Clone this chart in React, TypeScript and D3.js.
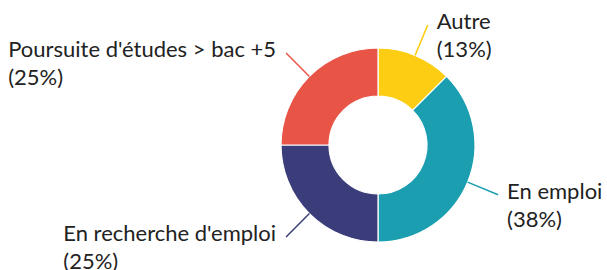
import React, { useEffect, useRef } from "react";
import * as d3 from "d3";

const categories = ["Autre", "En emploi", "En recherche d'emploi", "Poursuite d'études > bac +5"];
const shares = [12.5, 37.5, 25, 25];
const colors = ["#fccd12", "#1a9eb0", "#3b3c7a", "#e85446"];

const WIDTH = 607;
const HEIGHT = 270;
const CX = 378;
const CY = 145;
const OUTER = 97;
const INNER = 49;
const LEADER = 130;
const FONT = "Lato, sans-serif";
const FONT_SIZE = 22;
const LINE_GAP = 28;

export default function App() {
  const ref = useRef<SVGSVGElement>(null);

  useEffect(() => {
    const svg = d3.select(ref.current);
    svg.selectAll("*").remove();

    const rows = categories.map((name, i) => ({ name, value: shares[i], color: colors[i] }));
    const pie = d3.pie<typeof rows[number]>().value((d) => d.value).sort(null);
    const arcs = pie(rows);

    const arc = d3.arc<d3.PieArcDatum<typeof rows[number]>>().innerRadius(INNER).outerRadius(OUTER);
    const g = svg.append("g").attr("transform", `translate(${CX},${CY})`);

    g.selectAll("path.slice")
      .data(arcs)
      .join("path")
      .attr("class", "slice")
      .attr("d", arc)
      .attr("fill", (d) => d.data.color)
      .attr("stroke", "#fff")
      .attr("stroke-width", 1.2);

    // leader lines, radial from outer edge
    const point = (a: number, r: number) => [Math.sin(a) * r, -Math.cos(a) * r];
    arcs.forEach((d) => {
      const mid = (d.startAngle + d.endAngle) / 2;
      const [x0, y0] = point(mid, OUTER);
      const [x1, y1] = point(mid, LEADER);
      g.append("line")
        .attr("x1", x0).attr("y1", y0)
        .attr("x2", x1).attr("y2", y1)
        .attr("stroke", d.data.color)
        .attr("stroke-width", 1.5);

      const right = x1 > 0;
      const label = g.append("text")
        .attr("font-family", FONT)
        .attr("font-size", FONT_SIZE)
        .attr("fill", "#222");
      const first = label.append("tspan").text(d.data.name).attr("y", y1 + 4);
      const w = (first.node() as SVGTSpanElement).getComputedTextLength();
      const tx = right ? x1 + 9 : x1 - 10 - w;
      first.attr("x", tx);
      label.append("tspan")
        .attr("x", tx)
        .attr("y", y1 + 4 + LINE_GAP)
        .text(`(${Math.round(d.data.value)}%)`);
    });
  }, []);

  return (
    <svg
      ref={ref}
      width={WIDTH}
      height={HEIGHT}
      style={{ position: "absolute", left: 0, top: 0, background: "#fff" }}
    />
  );
}
